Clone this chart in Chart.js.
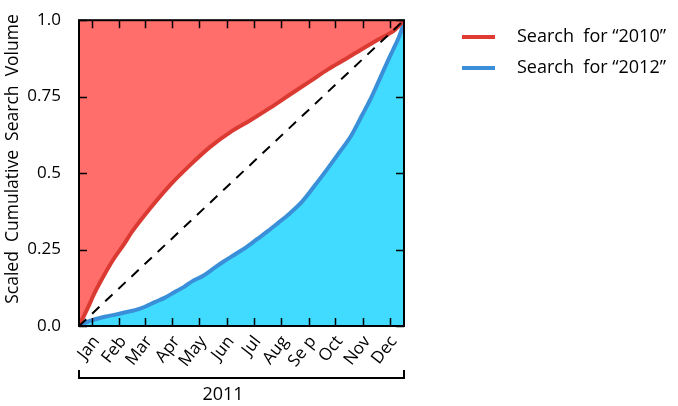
<!DOCTYPE html>
<html>
<head>
<meta charset="utf-8">
<script src="https://cdn.jsdelivr.net/npm/chart.js@4"></script>
<style>
  body { margin: 0; background: #fff; }
  canvas { display: block; }
</style>
</head>
<body>
<canvas id="chart" width="678" height="406"></canvas>
<script>
// Dữ liệu: trục x là ngày trong năm 2011, trục y là khối lượng tìm kiếm tích lũy
const months = ['Jan', 'Feb', 'Mar', 'Apr', 'May', 'Jun', 'Jul', 'Aug', 'Se p', 'Oct', 'Nov', 'Dec'];
const monthTickDays = [15, 45, 74, 105, 135, 166, 196, 227, 258, 288, 319, 349];
const yTickValues = [0, 0.25, 0.5, 0.75, 1.0];
const yTickLabels = ['0.0', '0.25', '0.5', '0.75', '1.0'];

const days2010 = [0, 5, 10, 17, 27, 38, 50, 60, 80, 102, 125, 147, 170, 192, 215, 237, 259, 280, 300, 318, 336, 355, 365];
const vals2010 = [0, 0.03, 0.06, 0.105, 0.16, 0.215, 0.265, 0.31, 0.385, 0.46, 0.527, 0.585, 0.634, 0.672, 0.714, 0.757, 0.799, 0.84, 0.874, 0.906, 0.937, 0.969, 1.0];

const days2012 = [0, 8, 18, 30, 42, 52, 63, 74, 85, 96, 108, 118, 127, 140, 152, 162, 175, 188, 200, 212, 224, 237, 250, 265, 280, 293, 306, 318, 329, 338, 347, 353, 359, 363, 365];
const vals2012 = [0, 0.012, 0.022, 0.031, 0.038, 0.045, 0.052, 0.063, 0.078, 0.092, 0.112, 0.128, 0.146, 0.165, 0.19, 0.21, 0.234, 0.258, 0.284, 0.31, 0.338, 0.369, 0.405, 0.46, 0.518, 0.57, 0.624, 0.69, 0.752, 0.81, 0.868, 0.905, 0.943, 0.975, 1.0];

const diagDays = [0, 365];
const diagVals = [0, 1];

const legendLabels = ['Search  for \u201C2010\u201D', 'Search  for \u201C2012\u201D'];
const yTitle = 'Scaled  Cumulative  Search  Volume';
const yearLabel = '2011';

const FONT = '"Open Sans", sans-serif';

function toPoints(xs, ys) {
    return xs.map((x, i) => ({ x: x, y: ys[i] }));
}

// Plugin: khung, vạch chia hướng vào trong, chú giải, tiêu đề trục y và ngoặc "2011"
const decorPlugin = {
    id: 'decor',
    afterDatasetsDraw(chart) {
        const ctx = chart.ctx;
        const a = chart.chartArea;
        const xs = chart.scales.x;
        const ys = chart.scales.y;
        const tl = 8;
        ctx.save();
        ctx.strokeStyle = '#000';
        ctx.lineWidth = 1.5;
        ctx.beginPath();
        monthTickDays.forEach(d => {
            const px = Math.round(xs.getPixelForValue(d)) + 0.5;
            ctx.moveTo(px, a.bottom); ctx.lineTo(px, a.bottom - tl);
            ctx.moveTo(px, a.top); ctx.lineTo(px, a.top + tl);
        });
        yTickValues.forEach(v => {
            const py = Math.round(ys.getPixelForValue(v)) + 0.5;
            ctx.moveTo(a.left, py); ctx.lineTo(a.left + tl, py);
            ctx.moveTo(a.right, py); ctx.lineTo(a.right - tl, py);
        });
        ctx.stroke();
        ctx.lineWidth = 2;
        ctx.strokeRect(a.left, a.top, a.right - a.left, a.bottom - a.top);
        ctx.restore();
    },
    afterDraw(chart) {
        const ctx = chart.ctx;
        const a = chart.chartArea;
        ctx.save();
        // ngoặc dưới trục x
        ctx.strokeStyle = '#000';
        ctx.lineWidth = 2;
        ctx.beginPath();
        ctx.moveTo(a.left, 370); ctx.lineTo(a.left, 378);
        ctx.lineTo(a.right, 378); ctx.lineTo(a.right, 370);
        ctx.stroke();
        ctx.fillStyle = '#000';
        ctx.font = '18px ' + FONT;
        ctx.textAlign = 'center';
        ctx.textBaseline = 'middle';
        ctx.fillText(yearLabel, 223, 395);
        // tiêu đề trục y
        ctx.save();
        ctx.translate(13, 159);
        ctx.rotate(-Math.PI / 2);
        ctx.font = '17.5px ' + FONT;
        ctx.fillText(yTitle, 0, 0);
        ctx.restore();
        // chú giải
        const colors = ['#e03b33', '#3a8fd8'];
        const rows = [37, 68];
        ctx.textAlign = 'left';
        ctx.font = '18px ' + FONT;
        ctx.lineWidth = 4;
        legendLabels.forEach((t, i) => {
            ctx.strokeStyle = colors[i];
            ctx.beginPath();
            ctx.moveTo(462, rows[i]); ctx.lineTo(495, rows[i]);
            ctx.stroke();
            ctx.fillText(t, 517, rows[i]);
        });
        ctx.restore();
    }
};

new Chart(document.getElementById('chart'), {
    type: 'line',
    data: {
        datasets: [
            {
                label: 'diag',
                data: toPoints(diagDays, diagVals),
                borderColor: '#000',
                borderWidth: 2,
                borderDash: [10, 8],
                pointRadius: 0,
                fill: false,
                order: 0
            },
            {
                label: legendLabels[0],
                data: toPoints(days2010, vals2010),
                borderColor: '#db3a33',
                backgroundColor: '#ff6e6a',
                borderWidth: 4,
                pointRadius: 0,
                cubicInterpolationMode: 'monotone',
                fill: 'end',
                order: 1
            },
            {
                label: legendLabels[1],
                data: toPoints(days2012, vals2012),
                borderColor: '#3a8fd8',
                backgroundColor: '#40dbff',
                borderWidth: 4,
                pointRadius: 0,
                cubicInterpolationMode: 'monotone',
                fill: 'start',
                order: 2
            }
        ]
    },
    options: {
        responsive: false,
        animation: false,
        layout: { padding: { left: 0, right: 274, top: 12, bottom: 0 } },
        plugins: {
            legend: { display: false },
            tooltip: { enabled: false }
        },
        scales: {
            x: {
                type: 'linear',
                min: 0,
                max: 365,
                grid: { display: false },
                border: { display: false },
                afterBuildTicks: s => { s.ticks = monthTickDays.map(v => ({ value: v })); },
                afterFit: s => { s.height = 80; },
                ticks: {
                    autoSkip: false,
                    minRotation: 52,
                    maxRotation: 52,
                    padding: -2,
                    labelOffset: 4,
                    color: '#000',
                    font: { family: FONT, size: 17 },
                    callback: (v, i) => months[i]
                }
            },
            y: {
                min: 0,
                max: 1,
                grid: { display: false },
                border: { display: false },
                afterBuildTicks: s => { s.ticks = yTickValues.map(v => ({ value: v })); },
                afterFit: s => { s.width = 79; },
                ticks: {
                    padding: 10,
                    color: '#000',
                    font: { family: FONT, size: 17 },
                    callback: (v, i) => yTickLabels[i]
                }
            }
        }
    },
    plugins: [decorPlugin]
});
</script>
</body>
</html>
